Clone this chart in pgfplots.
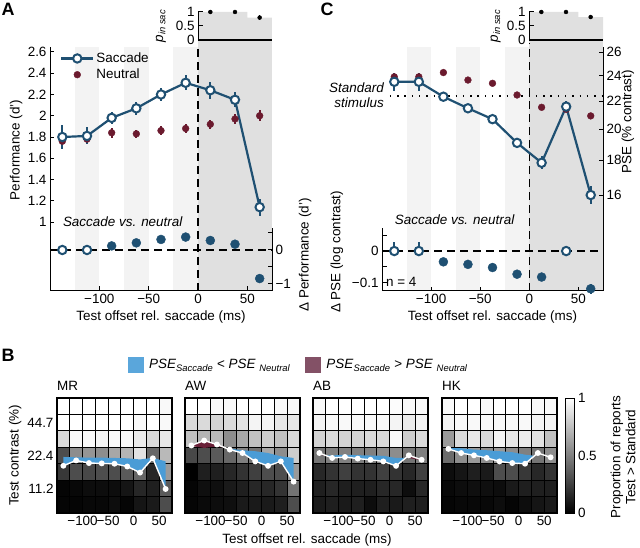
\documentclass[border=0pt]{standalone}
\usepackage{fontspec}
\setmainfont{Liberation Sans}
\usepackage{pgfplots}
\usepackage{pgfplotstable}
\pgfplotsset{compat=1.18}

\definecolor{sacblue}{HTML}{1F5072}
\definecolor{neured}{HTML}{6B1A2E}
\definecolor{regiongrey}{HTML}{E0E0E0}
\definecolor{bandgrey}{HTML}{F3F3F3}
\definecolor{fillblue}{HTML}{4A9CD6}
\definecolor{fillmaroon}{HTML}{6A2038}
\definecolor{legblue}{HTML}{5AA6DB}
\definecolor{legmaroon}{HTML}{835166}

\newcommand{\fs}{\fontsize{13.5}{15}\selectfont}

\tikzset{dashline/.style={line width=1.3bp, dash pattern=on 8bp off 5bp}}
\pgfdeclareplotmark{hcell}{%
  \pgfpathrectangle{\pgfpoint{-6.389bp}{-8.214bp}}{\pgfpoint{12.778bp}{16.429bp}}%
  \pgfusepathqfillstroke}

\pgfplotsset{
  every axis/.append style={
    font=\fs, scale only axis, anchor=south west,
    /pgf/number format/assume math mode=true,
    tick align=inside, major tick length=4.5bp, minor tick length=0bp,
    axis line style={line width=1bp},
    tick style={black, line width=1bp},
  },
  sacstyle/.style={sacblue, line width=2.2bp, mark=*, mark size=4.2bp,
    mark options={fill=white, draw=sacblue, line width=2bp, solid}},
  neustyle/.style={neured, only marks, mark=*, mark size=3.4bp},
  ebar/.style={error bars/y dir=both, error bars/y explicit, error bars/error mark=none,
    error bars/error bar style={line width=1.8bp}},
  hm/.style={width=115bp, height=115bp,
    xmin=-150, xmax=75, ymin=-0.5, ymax=6.5, axis on top, clip marker paths=true,
    xtick={-100,-50,0,50}, xticklabels={−100,−50,0,50},
    ytick=\empty, major tick length=0bp,
    axis line style={line width=1.3bp},
    colormap/blackwhite, point meta min=0, point meta max=1,
    title style={at={(axis description cs:0,1)}, anchor=south west, inner xsep=0bp, inner ysep=1.5bp}},
  hmgrid/.style={scatter, only marks, mark=hcell, point meta=explicit,
    scatter/use mapped color={draw=black, fill=mapped color},
    mark options={line width=0.9bp}, forget plot},
  psewhite/.style={white, line width=1.4bp, mark=*, mark size=2.2bp, forget plot},
  bluearea/.style={fill=fillblue, draw=none, forget plot},
  maroonarea/.style={fill=fillmaroon, draw=none, forget plot},
}

% ---------------- Panel A data ----------------
\pgfplotstableread{
x sac sacerr neu neuerr
-137.5 1.80 0.11 1.76 0.05
-112.5 1.81 0.08 1.78 0.05
-87.5 1.98 0.06 1.84 0.045
-62.5 2.07 0.06 1.83 0.04
-37.5 2.20 0.06 1.86 0.04
-12.5 2.31 0.07 1.88 0.04
12.5 2.24 0.08 1.92 0.04
37.5 2.15 0.07 1.97 0.05
62.5 1.14 0.08 2.00 0.05
}\Aperf
\pgfplotstableread{
x d err
-137.5 0.00 0.14
-112.5 0.00 0.14
}\Adopen
\pgfplotstableread{
x d err
-87.5 0.12 0.07
-62.5 0.21 0.07
-37.5 0.31 0.08
-12.5 0.38 0.10
12.5 0.28 0.10
37.5 0.17 0.10
62.5 -0.84 0.10
}\Adfill
\pgfplotstableread{
x p
0 1
25 1
50 0.8
75 0.8
}\Apins
\pgfplotstableread{
x p err
12.5 1.0 0.02
37.5 1.0 0.02
62.5 0.8 0.08
}\Apinserr

% ---------------- Panel C data ----------------
\pgfplotstableread{
x sac sacerr neu neuerr
-137.5 23.5 0.7 23.9 0.2
-112.5 23.5 0.7 23.9 0.2
-87.5 22.34 0.2 24.25 0.15
-62.5 21.48 0.2 23.64 0.15
-37.5 20.7 0.2 23.38 0.15
-12.5 19.1 0.3 22.47 0.15
12.5 17.85 0.4 21.55 0.15
37.5 21.6 0.4 21.4 0.15
62.5 16.0 0.5 20.93 0.15
}\Cpse
\pgfplotstableread{
x d ep em
-137.5 0 0.028 0.002
-112.5 0 0.028 0.002
37.5 0 0.012 0.012
}\Cdopen
\pgfplotstableread{
x d err
-87.5 -0.034 0.005
-62.5 -0.042 0.005
-37.5 -0.052 0.005
-12.5 -0.073 0.010
12.5 -0.082 0.012
62.5 -0.119 0.015
}\Cdfill
\pgfplotstableread{
x p
0 1
25 1
50 0.82
75 0.82
}\Cpins
\pgfplotstableread{
x p err
12.5 1.0 0.02
37.5 1.0 0.02
62.5 0.82 0.06
}\Cpinserr

% ---------------- Panel B data ----------------
\pgfplotstableread[row sep=\\]{
x y c\\
-137.5 0 0.02\\ -112.5 0 0.02\\ -87.5 0 0.03\\ -62.5 0 0.03\\ -37.5 0 0.05\\ -12.5 0 0.02\\ 12.5 0 0.08\\ 37.5 0 0.10\\ 62.5 0 0.30\\
-137.5 1 0.02\\ -112.5 1 0.03\\ -87.5 1 0.05\\ -62.5 1 0.05\\ -37.5 1 0.05\\ -12.5 1 0.08\\ 12.5 1 0.15\\ 37.5 1 0.12\\ 62.5 1 0.35\\
-137.5 2 0.22\\ -112.5 2 0.30\\ -87.5 2 0.28\\ -62.5 2 0.30\\ -37.5 2 0.30\\ -12.5 2 0.35\\ 12.5 2 0.40\\ 37.5 2 0.15\\ 62.5 2 0.60\\
-137.5 3 0.30\\ -112.5 3 0.55\\ -87.5 3 0.58\\ -62.5 3 0.55\\ -37.5 3 0.65\\ -12.5 3 0.70\\ 12.5 3 0.88\\ 37.5 3 0.40\\ 62.5 3 0.72\\
-137.5 4 0.85\\ -112.5 4 0.97\\ -87.5 4 0.97\\ -62.5 4 0.95\\ -37.5 4 0.97\\ -12.5 4 0.97\\ 12.5 4 0.92\\ 37.5 4 0.85\\ 62.5 4 0.90\\
-137.5 5 1.00\\ -112.5 5 1.00\\ -87.5 5 1.00\\ -62.5 5 1.00\\ -37.5 5 1.00\\ -12.5 5 1.00\\ 12.5 5 0.97\\ 37.5 5 1.00\\ 62.5 5 0.97\\
-137.5 6 1.00\\ -112.5 6 1.00\\ -87.5 6 1.00\\ -62.5 6 1.00\\ -37.5 6 1.00\\ -12.5 6 1.00\\ 12.5 6 1.00\\ 37.5 6 1.00\\ 62.5 6 0.97\\
}\MRgrid
\pgfplotstableread[row sep=\\]{
x y c\\
-137.5 0 0.02\\ -112.5 0 0.04\\ -87.5 0 0.05\\ -62.5 0 0.06\\ -37.5 0 0.10\\ -12.5 0 0.10\\ 12.5 0 0.10\\ 37.5 0 0.12\\ 62.5 0 0.30\\
-137.5 1 0.02\\ -112.5 1 0.06\\ -87.5 1 0.06\\ -62.5 1 0.10\\ -37.5 1 0.12\\ -12.5 1 0.15\\ 12.5 1 0.15\\ 37.5 1 0.20\\ 62.5 1 0.45\\
-137.5 2 0.00\\ -112.5 2 0.12\\ -87.5 2 0.12\\ -62.5 2 0.15\\ -37.5 2 0.20\\ -12.5 2 0.25\\ 12.5 2 0.30\\ 37.5 2 0.30\\ 62.5 2 0.60\\
-137.5 3 0.28\\ -112.5 3 0.30\\ -87.5 3 0.35\\ -62.5 3 0.40\\ -37.5 3 0.50\\ -12.5 3 0.45\\ 12.5 3 0.65\\ 37.5 3 0.55\\ 62.5 3 0.80\\
-137.5 4 0.75\\ -112.5 4 0.70\\ -87.5 4 0.72\\ -62.5 4 0.55\\ -37.5 4 0.65\\ -12.5 4 0.75\\ 12.5 4 0.80\\ 37.5 4 0.75\\ 62.5 4 0.85\\
-137.5 5 0.85\\ -112.5 5 0.85\\ -87.5 5 0.82\\ -62.5 5 0.85\\ -37.5 5 0.88\\ -12.5 5 0.95\\ 12.5 5 0.95\\ 37.5 5 0.90\\ 62.5 5 0.90\\
-137.5 6 1.00\\ -112.5 6 1.00\\ -87.5 6 0.97\\ -62.5 6 0.97\\ -37.5 6 1.00\\ -12.5 6 1.00\\ 12.5 6 1.00\\ 37.5 6 0.97\\ 62.5 6 0.97\\
}\AWgrid
\pgfplotstableread[row sep=\\]{
x y c\\
-137.5 0 0.10\\ -112.5 0 0.12\\ -87.5 0 0.10\\ -62.5 0 0.12\\ -37.5 0 0.05\\ -12.5 0 0.12\\ 12.5 0 0.10\\ 37.5 0 0.12\\ 62.5 0 0.12\\
-137.5 1 0.12\\ -112.5 1 0.15\\ -87.5 1 0.12\\ -62.5 1 0.12\\ -37.5 1 0.12\\ -12.5 1 0.15\\ 12.5 1 0.15\\ 37.5 1 0.05\\ 62.5 1 0.15\\
-137.5 2 0.15\\ -112.5 2 0.20\\ -87.5 2 0.25\\ -62.5 2 0.20\\ -37.5 2 0.20\\ -12.5 2 0.25\\ 12.5 2 0.20\\ 37.5 2 0.15\\ 62.5 2 0.25\\
-137.5 3 0.45\\ -112.5 3 0.50\\ -87.5 3 0.50\\ -62.5 3 0.50\\ -37.5 3 0.50\\ -12.5 3 0.55\\ 12.5 3 0.55\\ 37.5 3 0.45\\ 62.5 3 0.50\\
-137.5 4 0.82\\ -112.5 4 0.85\\ -87.5 4 0.82\\ -62.5 4 0.82\\ -37.5 4 0.85\\ -12.5 4 0.85\\ 12.5 4 0.97\\ 37.5 4 0.80\\ 62.5 4 0.85\\
-137.5 5 0.95\\ -112.5 5 0.97\\ -87.5 5 0.97\\ -62.5 5 0.97\\ -37.5 5 0.97\\ -12.5 5 0.97\\ 12.5 5 0.95\\ 37.5 5 0.92\\ 62.5 5 0.95\\
-137.5 6 0.97\\ -112.5 6 1.00\\ -87.5 6 1.00\\ -62.5 6 1.00\\ -37.5 6 1.00\\ -12.5 6 1.00\\ 12.5 6 0.98\\ 37.5 6 0.97\\ 62.5 6 0.97\\
}\ABgrid
\pgfplotstableread[row sep=\\]{
x y c\\
-137.5 0 0.02\\ -112.5 0 0.03\\ -87.5 0 0.03\\ -62.5 0 0.03\\ -37.5 0 0.05\\ -12.5 0 0.02\\ 12.5 0 0.05\\ 37.5 0 0.08\\ 62.5 0 0.10\\
-137.5 1 0.03\\ -112.5 1 0.05\\ -87.5 1 0.06\\ -62.5 1 0.06\\ -37.5 1 0.05\\ -12.5 1 0.10\\ 12.5 1 0.12\\ 37.5 1 0.12\\ 62.5 1 0.12\\
-137.5 2 0.05\\ -112.5 2 0.08\\ -87.5 2 0.12\\ -62.5 2 0.10\\ -37.5 2 0.30\\ -12.5 2 0.30\\ 12.5 2 0.22\\ 37.5 2 0.15\\ 62.5 2 0.20\\
-137.5 3 0.42\\ -112.5 3 0.55\\ -87.5 3 0.60\\ -62.5 3 0.55\\ -37.5 3 0.60\\ -12.5 3 0.55\\ 12.5 3 0.50\\ 37.5 3 0.45\\ 62.5 3 0.55\\
-137.5 4 0.60\\ -112.5 4 0.85\\ -87.5 4 0.90\\ -62.5 4 0.85\\ -37.5 4 0.95\\ -12.5 4 0.90\\ 12.5 4 0.92\\ 37.5 4 0.88\\ 62.5 4 0.75\\
-137.5 5 0.95\\ -112.5 5 0.97\\ -87.5 5 0.97\\ -62.5 5 0.97\\ -37.5 5 0.97\\ -12.5 5 0.97\\ 12.5 5 0.97\\ 37.5 5 0.95\\ 62.5 5 0.95\\
-137.5 6 0.97\\ -112.5 6 1.00\\ -87.5 6 1.00\\ -62.5 6 0.97\\ -37.5 6 1.00\\ -12.5 6 1.00\\ 12.5 6 1.00\\ 37.5 6 0.97\\ 62.5 6 0.97\\
}\HKgrid

% saccade PSE (white line), in contrast-row units
\pgfplotstableread{
x s
-137.5 2.375
-112.5 2.70
-87.5 2.54
-62.5 2.52
-37.5 2.50
-12.5 2.33
12.5 1.96
37.5 2.83
62.5 0.96
}\MRpse
\pgfplotstableread{
x s
-137.5 3.61
-112.5 3.91
-87.5 3.67
-62.5 3.36
-37.5 3.15
-12.5 2.64
12.5 2.37
37.5 2.64
62.5 1.41
}\AWpse
\pgfplotstableread{
x s
-137.5 3.15
-112.5 2.85
-87.5 2.91
-62.5 2.81
-37.5 2.74
-12.5 2.64
12.5 2.37
37.5 3.01
62.5 2.74
}\ABpse
\pgfplotstableread{
x s
-137.5 3.40
-112.5 3.15
-87.5 3.01
-62.5 2.85
-37.5 2.64
-12.5 2.54
12.5 2.50
37.5 3.15
62.5 2.89
}\HKpse

\begin{document}
\begin{tikzpicture}
\path[use as bounding box] (0,0) rectangle (640bp,548bp);

% ================= Panel A =================
\begin{axis}[at={(50bp,257bp)}, width=222bp, height=244bp,
  xmin=-150, xmax=75, ymin=0.351, ymax=2.647,
  axis x line*=bottom, axis y line*=left, axis on top, clip=false,
  xtick={-100,-50,0,50}, xticklabels={−100,−50,0,50},
  ytick={1,1.2,1.4,1.6,1.8,2,2.2,2.4,2.6},
  xlabel={Test offset rel. saccade (ms)},
  xlabel style={at={(axis description cs:0.5,-0.107)}, anchor=center},
  ylabel={Performance (d')},
  ylabel style={at={(axis description cs:-0.153,0.578)}, anchor=center},
  legend style={at={(axis description cs:0.045,0.985)}, anchor=north west,
    draw=none, fill=none, inner sep=0bp, row sep=1bp},
  legend cell align=left,
  legend image code/.code={\draw[mark repeat=2,mark phase=2,#1] plot coordinates {(0bp,0bp) (16bp,0bp) (32bp,0bp)};},
]
\addlegendimage{sacstyle}\addlegendentry{Saccade}
\addlegendimage{neustyle}\addlegendentry{Neutral}
\fill[bandgrey] (axis cs:-125,0.351) rectangle (axis cs:-100,2.647);
\fill[bandgrey] (axis cs:-75,0.351) rectangle (axis cs:-50,2.647);
\fill[bandgrey] (axis cs:-25,0.351) rectangle (axis cs:0,2.647);
\fill[regiongrey] (axis cs:0,0.351) rectangle (axis cs:75,2.713);
\draw[dashline] (axis cs:0,0.351) -- (axis cs:0,2.67);
\addplot[neustyle, ebar, forget plot] table[x=x,y=neu,y error=neuerr] {\Aperf};
\addplot[sacstyle, ebar, forget plot] table[x=x,y=sac,y error=sacerr] {\Aperf};
\end{axis}

\begin{axis}[at={(50bp,257bp)}, width=222bp, height=244bp,
  xmin=-150, xmax=75, ymin=-1.206, ymax=5.97,
  axis x line=none, axis y line*=right, axis line style={draw=none}, clip=false,
  ytick={-1,-0.5,0,0.5}, yticklabels={−1,,0,},
  ylabel={Δ Performance (d')},
  ylabel style={at={(axis description cs:1.149,0.148)}, anchor=center},
]
\draw[line width=1bp] (axis cs:75,-1.206) -- (axis cs:75,0.65);
\draw[dashline] (axis cs:-150,0) -- (axis cs:75,0);
\node[anchor=west, inner sep=0bp, font=\fs\itshape] at (axis cs:-137,0.82) {Saccade vs. neutral};
\addplot[sacblue, only marks, mark=*, mark size=4.5bp, ebar] table[x=x,y=d,y error=err] {\Adfill};
\addplot[sacblue, only marks, mark=*, mark size=4.2bp, mark options={fill=white, line width=2bp}, ebar] table[x=x,y=d,y error=err] {\Adopen};
\end{axis}

\begin{axis}[at={(198bp,508bp)}, width=74bp, height=28bp,
  xmin=0, xmax=75, ymin=0, ymax=1,
  axis x line*=bottom, axis y line*=left, axis on top, clip=false,
  xtick=\empty, ytick={0,0.5,1}, yticklabels={0,0.5,1},
  x axis line style={line width=1.6bp},
  ylabel={\textit{p}\textsubscript{\textit{in sac}}},
  ylabel style={at={(axis description cs:-0.5,0.5)}, anchor=center},
]
\addplot[ybar interval, fill=regiongrey, draw=none] table[x=x,y=p] {\Apins};
\addplot[only marks, mark=none, black, error bars/y dir=both, error bars/y explicit, error bars/error mark=none, error bars/error bar style={line width=1.2bp, black}] table[x=x,y=p,y error=err] {\Apinserr};
\end{axis}

% ================= Panel C =================
\begin{axis}[at={(382bp,257bp)}, width=221bp, height=244bp,
  xmin=-150, xmax=75, ymode=log, ymin=11.55, ymax=26.45,
  axis x line*=bottom, axis y line*=right, axis on top, clip=false,
  xtick={-100,-50,0,50}, xticklabels={−100,−50,0,50},
  ytick={16,18,20,22,24,26}, yticklabels={16,18,20,22,24,26},
  xlabel={Test offset rel. saccade (ms)},
  xlabel style={at={(axis description cs:0.5,-0.107)}, anchor=center},
  ylabel={PSE (\% contrast)},
  ylabel style={at={(axis description cs:1.113,0.693)}, anchor=center},
]
\fill[bandgrey] (axis cs:-125,11.55) rectangle (axis cs:-100,26.45);
\fill[bandgrey] (axis cs:-75,11.55) rectangle (axis cs:-50,26.45);
\fill[bandgrey] (axis cs:-25,11.55) rectangle (axis cs:0,26.45);
\fill[regiongrey] (axis cs:0,11.55) rectangle (axis cs:75,27.08);
\draw[dashline] (axis cs:0,11.55) -- (axis cs:0,26.8);
\draw[line width=1.4bp, dash pattern=on 1.4bp off 5.9bp] (axis cs:-142,22.4) -- (axis cs:75,22.4);
\node[anchor=east, align=right, inner sep=0bp, font=\fs\itshape] at (axis cs:-148,22.43) {Standard\\stimulus};
\addplot[neustyle, ebar] table[x=x,y=neu,y error=neuerr] {\Cpse};
\addplot[sacstyle, ebar] table[x=x,y=sac,y error=sacerr] {\Cpse};
\end{axis}

\begin{axis}[at={(382bp,257bp)}, width=221bp, height=244bp,
  xmin=-150, xmax=75, ymin=-0.126, ymax=0.6435,
  axis x line=none, axis y line*=left, axis line style={draw=none}, clip=false,
  ytick={-0.1,-0.05,0,0.05}, yticklabels={−0.1,,0,},
  ylabel={Δ PSE (log contrast)},
  ylabel style={at={(axis description cs:-0.204,0.16)}, anchor=center},
]
\draw[line width=1bp] (axis cs:-150,-0.126) -- (axis cs:-150,0.0726);
\draw[dashline] (axis cs:-150,0) -- (axis cs:75,0);
\node[anchor=west, inner sep=0bp, font=\fs\itshape] at (axis cs:-137,0.098) {Saccade vs. neutral};
\node[anchor=west, inner sep=0bp, font=\fs] at (axis cs:-146,-0.098) {n = 4};
\addplot[sacblue, only marks, mark=*, mark size=4.5bp, ebar] table[x=x,y=d,y error=err] {\Cdfill};
\addplot[sacblue, only marks, mark=*, mark size=4.2bp, mark options={fill=white, line width=2bp}, ebar]
  table[x=x,y=d,y error plus=ep,y error minus=em] {\Cdopen};
\end{axis}

\begin{axis}[at={(529bp,508bp)}, width=74bp, height=28bp,
  xmin=0, xmax=75, ymin=0, ymax=1,
  axis x line*=bottom, axis y line*=left, axis on top, clip=false,
  xtick=\empty, ytick={0,0.5,1}, yticklabels={0,0.5,1},
  x axis line style={line width=1.6bp},
  ylabel={\textit{p}\textsubscript{\textit{in sac}}},
  ylabel style={at={(axis description cs:-0.45,0.5)}, anchor=center},
]
\addplot[ybar interval, fill=regiongrey, draw=none] table[x=x,y=p] {\Cpins};
\addplot[only marks, mark=none, black, error bars/y dir=both, error bars/y explicit, error bars/error mark=none, error bars/error bar style={line width=1.2bp, black}] table[x=x,y=p,y error=err] {\Cpinserr};
\end{axis}

% ================= Panel B =================
\begin{axis}[hm, at={(57bp,35bp)}, title={MR},
  ytick={1,3,5}, yticklabels={11.2,22.4,44.7},
  ylabel={Test contrast (\%)},
  ylabel style={at={(axis description cs:-0.365,0.5)}, anchor=center},
  legend columns=2,
  legend style={at={(axis description cs:0.617,1.287)}, anchor=west,
    draw=none, fill=none, inner sep=0bp,
    /tikz/every odd column/.append style={column sep=3bp},
    /tikz/every even column/.append style={column sep=13bp}},
  legend image code/.code={\fill[#1] (0bp,-8bp) rectangle (16bp,8bp);},
]
\addlegendimage{fill=legblue, draw=none}
\addlegendentry{\textit{PSE}\textsubscript{\textit{Saccade}} < \textit{PSE} \textsubscript{\textit{Neutral}}}
\addlegendimage{fill=legmaroon, draw=none}
\addlegendentry{\textit{PSE}\textsubscript{\textit{Saccade}} > \textit{PSE} \textsubscript{\textit{Neutral}}}
\addplot[hmgrid] table[x=x,y=y,meta=c] {\MRgrid};
\addplot[bluearea] table {
x y
-137.5 2.375
-112.5 2.70
-87.5 2.54
-62.5 2.52
-37.5 2.50
-12.5 2.33
12.5 1.96
37.5 2.83
62.5 0.96
62.5 2.64
37.5 2.86
12.5 2.76
-12.5 2.83
-37.5 2.85
-62.5 2.87
-87.5 2.87
-112.5 2.89
-137.5 2.91
};
\addplot[psewhite] table[x=x,y=s] {\MRpse};
\end{axis}

\begin{axis}[hm, at={(185bp,35bp)}, title={AW}]
\addplot[hmgrid] table[x=x,y=y,meta=c] {\AWgrid};
\addplot[maroonarea] table {
x y
-137.5 3.61
-112.5 3.91
-87.5 3.67
-70.83 3.463
-87.5 3.55
-112.5 3.46
-137.5 3.58
};
\addplot[bluearea] table {
x y
-70.83 3.463
-62.5 3.36
-37.5 3.15
-12.5 2.64
12.5 2.37
37.5 2.64
62.5 1.41
62.5 2.85
37.5 2.95
12.5 3.15
-12.5 3.26
-37.5 3.32
-62.5 3.42
};
\addplot[psewhite] table[x=x,y=s] {\AWpse};
\end{axis}

\begin{axis}[hm, at={(313bp,35bp)}, title={AB}]
\addplot[hmgrid] table[x=x,y=y,meta=c] {\ABgrid};
\addplot[maroonarea] table {
x y
-137.5 3.15
-125.9 3.011
-137.5 3.02
};
\addplot[bluearea] table {
x y
-125.9 3.011
-112.5 2.85
-87.5 2.91
-62.5 2.81
-37.5 2.74
-12.5 2.64
12.5 2.37
31.25 2.85
12.5 2.85
-12.5 2.98
-37.5 3.00
-62.5 3.02
-87.5 3.05
-112.5 3.00
};
\addplot[maroonarea] table {
x y
31.25 2.85
37.5 3.01
62.5 2.74
62.5 2.70
37.5 2.85
};
\addplot[psewhite] table[x=x,y=s] {\ABpse};
\end{axis}

\begin{axis}[hm, at={(442bp,35bp)}, title={HK},
  colorbar,
  colorbar style={at={(parent axis.north east)}, anchor=north west, xshift=0bp,
    width=9bp, height=115bp, ytick={0,0.5,1}, yticklabels={0,0.5,1},
    major tick length=0bp, axis line style={line width=0.8bp}},
]
\addplot[hmgrid] table[x=x,y=y,meta=c] {\HKgrid};
\addplot[bluearea] table {
x y
-137.5 3.40
-112.5 3.15
-87.5 3.01
-62.5 2.85
-37.5 2.64
-12.5 2.54
12.5 2.50
31.0 2.98
12.5 3.05
-12.5 3.20
-37.5 3.26
-62.5 3.32
-87.5 3.36
-112.5 3.44
-137.5 3.46
};
\addplot[psewhite] table[x=x,y=s] {\HKpse};
\end{axis}

\node[font=\fs, rotate=90, align=center] at (623bp,91bp) {Proportion of reports\\Test > Standard};
\node[font=\fs] at (307bp,8bp) {Test offset rel. saccade (ms)};

% panel letters
\node[font=\bfseries\fontsize{18}{20}\selectfont] at (8bp,539bp) {A};
\node[font=\bfseries\fontsize{18}{20}\selectfont] at (327bp,539bp) {C};
\node[font=\bfseries\fontsize{18}{20}\selectfont] at (8bp,193bp) {B};
\end{tikzpicture}
\end{document}
